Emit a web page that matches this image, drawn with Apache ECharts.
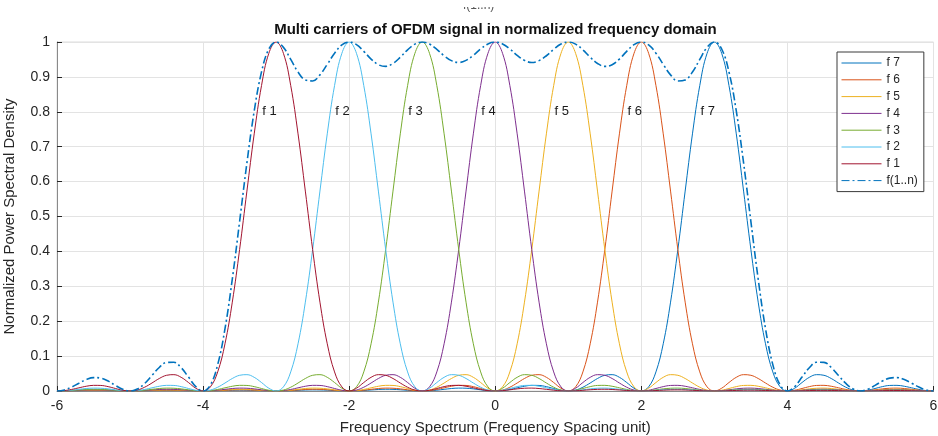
<!DOCTYPE html>
<html>
<head>
<meta charset="utf-8">
<title>Multi carriers of OFDM signal</title>
<script src="https://cdn.jsdelivr.net/npm/echarts@6/dist/echarts.min.js"></script>
<style>
  html, body { margin: 0; padding: 0; background: #ffffff; }
  #chart { width: 938px; height: 436px; }
</style>
</head>
<body>
<div id="chart"></div>
<script>
// Sub-carrier centre frequencies (in units of the frequency spacing)
const carrierCenters = [-3, -2, -1, 0, 1, 2, 3];
const carrierNames = ['f 1', 'f 2', 'f 3', 'f 4', 'f 5', 'f 6', 'f 7'];
const carrierColors = ['#A2142F', '#4DBEEE', '#77AC30', '#7E2F8E', '#EDB120', '#D95319', '#0072BD'];
const sumName = 'f(1..n)';
const sumColor = '#0072BD';

// Power spectral density of one carrier, read at distances 0, 0.1, 0.2 ... 9.0 from its centre
const carrierShape = [
  1.0000, 0.9675, 0.8751, 0.7368, 0.5728, 0.4053, 0.2546, 0.1353, 0.0547, 0.0119,
  0.0000, 0.0080, 0.0243, 0.0392, 0.0468, 0.0450, 0.0358, 0.0229, 0.0108, 0.0027,
  0.0000, 0.0022, 0.0072, 0.0125, 0.0159, 0.0162, 0.0136, 0.0091, 0.0045, 0.0012,
  0.0000, 0.0010, 0.0034, 0.0061, 0.0079, 0.0083, 0.0071, 0.0048, 0.0024, 0.0006,
  0.0000, 0.0006, 0.0020, 0.0036, 0.0047, 0.0050, 0.0043, 0.0030, 0.0015, 0.0004,
  0.0000, 0.0004, 0.0013, 0.0024, 0.0031, 0.0033, 0.0029, 0.0020, 0.0010, 0.0003,
  0.0000, 0.0003, 0.0009, 0.0017, 0.0022, 0.0024, 0.0021, 0.0015, 0.0008, 0.0002,
  0.0000, 0.0002, 0.0007, 0.0012, 0.0017, 0.0018, 0.0016, 0.0011, 0.0006, 0.0002,
  0.0000, 0.0001, 0.0005, 0.0010, 0.0013, 0.0014, 0.0012, 0.0009, 0.0005, 0.0001,
  0.0000
];
const shapeStep = 0.1;

// Axis ticks
const xTicks = [-6, -4, -2, 0, 2, 4, 6];
const yTicks = [0, 0.1, 0.2, 0.3, 0.4, 0.5, 0.6, 0.7, 0.8, 0.9, 1];

// Build each carrier's curve on the common frequency grid -6 ... 6
const steps = Math.round((xTicks[xTicks.length - 1] - xTicks[0]) / shapeStep);
const firstStep = Math.round(xTicks[0] / shapeStep);
const carrierCurves = carrierCenters.map(c => {
  const pts = [];
  for (let i = firstStep; i <= firstStep + steps; i++) {
    const k = Math.abs(i - Math.round(c / shapeStep));
    pts.push([+(i * shapeStep).toFixed(2), carrierShape[k]]);
  }
  return pts;
});
// Combined spectrum: sum of all carriers
const sumCurve = carrierCurves[0].map((p, j) => [p[0], carrierCurves.reduce((s, cur) => s + cur[j][1], 0)]);

const FONT = '"Liberation Sans", Arial, Helvetica, sans-serif';
const TXT = '#262626';

const series = [];
// draw f 7 first so f 1 ends on top
for (let n = carrierCenters.length - 1; n >= 0; n--) {
  series.push({
    name: carrierNames[n],
    type: 'line',
    data: carrierCurves[n],
    symbol: 'none',
    smooth: 0.4,
    lineStyle: { color: carrierColors[n], width: 1 },
    itemStyle: { color: carrierColors[n] },
    z: 2
  });
}
series.push({
  name: sumName,
  type: 'line',
  data: sumCurve,
  symbol: 'none',
  smooth: 0.4,
  lineStyle: { color: sumColor, width: 1.6, type: [8, 3, 2, 3] },
  itemStyle: { color: sumColor },
  z: 3
});
// carrier name labels, placed just left of each peak
series.push({
  name: 'labels',
  type: 'scatter',
  symbolSize: 0,
  silent: true,
  itemStyle: { opacity: 1 },
  data: carrierCenters.map((c, n) => ({ value: [c - 0.19, 0.8], name: carrierNames[n] })),
  label: {
    show: true, position: 'right', distance: 0,
    formatter: p => p.name,
    fontFamily: FONT, fontSize: 13, color: '#1a1a1a', opacity: 1
  },
  z: 4
});

const chart = echarts.init(document.getElementById('chart'));
chart.setOption({
  animation: false,
  backgroundColor: '#ffffff',
  grid: {
    left: 57, right: 4.5, top: 42, bottom: 45,
    containLabel: false, outerBoundsMode: 'none',
    show: true, borderColor: '#dddddd', borderWidth: 1, backgroundColor: 'transparent'
  },
  xAxis: {
    type: 'value',
    min: xTicks[0], max: xTicks[xTicks.length - 1], interval: 2,
    name: 'Frequency Spectrum (Frequency Spacing unit)',
    nameLocation: 'middle', nameGap: 29,
    nameTextStyle: { fontFamily: FONT, fontSize: 15, color: TXT },
    axisLine: { onZero: false, lineStyle: { color: '#8a8a8a', width: 1 } },
    axisTick: { inside: true, length: 5, lineStyle: { color: '#262626' } },
    axisLabel: { fontFamily: FONT, fontSize: 14, color: TXT, margin: 8 },
    splitLine: { show: true, lineStyle: { color: '#e3e3e3', width: 1 } }
  },
  yAxis: {
    type: 'value',
    min: yTicks[0], max: yTicks[yTicks.length - 1], interval: 0.1,
    name: 'Normalized Power Spectral Density',
    nameLocation: 'middle', nameGap: 40,
    nameTextStyle: { fontFamily: FONT, fontSize: 15, color: TXT },
    axisLine: { show: true, onZero: false, lineStyle: { color: '#8a8a8a', width: 1 } },
    axisTick: { show: true, inside: true, length: 5, lineStyle: { color: '#262626' } },
    axisLabel: { fontFamily: FONT, fontSize: 14, color: TXT, margin: 7,
      formatter: v => String(+v.toFixed(1)) },
    splitLine: { show: true, lineStyle: { color: '#e3e3e3', width: 1 } }
  },
  legend: {
    data: carrierNames.slice().reverse().concat([sumName]),
    orient: 'vertical',
    left: 837, top: 52,
    padding: [5, 6, 5, 4],
    itemWidth: 40, itemHeight: 14, itemGap: 4.8,
    backgroundColor: '#ffffff',
    borderColor: '#3a3a3a', borderWidth: 1, borderRadius: 0,
    itemStyle: { opacity: 0 },
    lineStyle: { width: 1 },
    textStyle: { fontFamily: FONT, fontSize: 12, color: TXT, padding: [0, 0, 0, 0] },
    selectedMode: false
  },
  graphic: [
    {
      type: 'text', z: 10,
      style: {
        x: 495.5, y: 30, text: 'Multi carriers of OFDM signal in normalized frequency domain',
        align: 'center', verticalAlign: 'middle',
        font: 'bold 15px ' + FONT, fill: '#111111'
      }
    },
    {
      type: 'text', z: 10,
      style: {
        x: 463, y: 0, text: sumName,
        align: 'left', verticalAlign: 'top',
        font: '12px ' + FONT, fill: '#555555'
      }
    },
    {
      type: 'rect', z: 11,
      shape: { x: 455, y: 0, width: 60, height: 7 },
      style: { fill: '#ffffff' }
    }
  ],
  series: series
});
</script>
</body>
</html>
